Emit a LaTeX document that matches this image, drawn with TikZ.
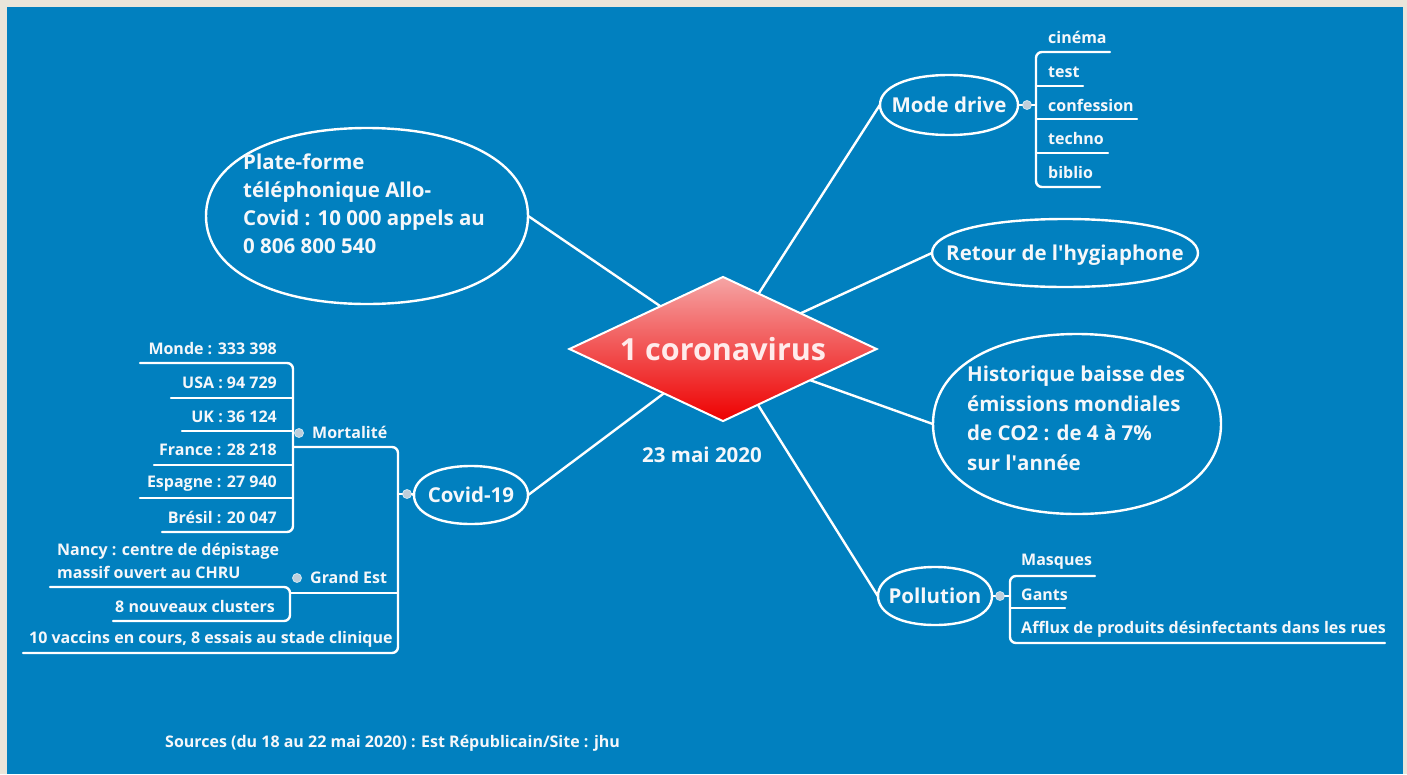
\documentclass[tikz,border=0pt]{standalone}
\usepackage{fontspec}
\setmainfont{Open Sans}
\usetikzlibrary{shapes.geometric,calc}
\definecolor{bg}{RGB}{1,128,191}
\definecolor{frame}{RGB}{234,229,218}
\definecolor{diatop}{RGB}{245,165,165}
\definecolor{diabot}{RGB}{238,0,0}
\definecolor{dotfill}{RGB}{190,205,218}
\definecolor{txt}{RGB}{245,247,250}
\tikzset{
  wire/.style={draw=white, line width=2.4pt, line cap=round, line join=round},
  tree/.style={wire, rounded corners=6pt},
  oval/.style={ellipse, inner sep=0pt},
  big/.style={text=txt, font=\bfseries\fontsize{20.5}{28}\selectfont, inner sep=0pt, text height=14pt, text depth=0pt},
  bigml/.style={text=txt, font=\bfseries\fontsize{20.5}{28}\selectfont, inner sep=0pt},
  small/.style={text=txt, font=\bfseries\fontsize{16}{23}\selectfont, inner sep=0pt, text height=11pt, text depth=0pt},
  smallml/.style={text=txt, font=\bfseries\fontsize{16}{23}\selectfont, inner sep=0pt},
  knob/.style={circle, fill=dotfill, draw=white!80!bg, line width=0.8pt, minimum size=9pt, inner sep=0pt},
}
% oval outline around a node centre: #1 name, #2 rx, #3 ry
\newcommand\fatoval[3]{%
  \draw[wire]
    ($(#1)+(#2,0)$) .. controls ($(#1)+(#2,0.6*#3)$) and ($(#1)+(0.6*#2,#3)$) .. ($(#1)+(0,#3)$)
    .. controls ($(#1)+(-0.6*#2,#3)$) and ($(#1)+(-#2,0.6*#3)$) .. ($(#1)+(-#2,0)$)
    .. controls ($(#1)+(-#2,-0.6*#3)$) and ($(#1)+(-0.6*#2,-#3)$) .. ($(#1)+(0,-#3)$)
    .. controls ($(#1)+(0.6*#2,-#3)$) and ($(#1)+(#2,-0.6*#3)$) .. ($(#1)+(#2,0)$) -- cycle;}
\begin{document}
\begin{tikzpicture}[x=1pt,y=-1pt]
\fill[frame] (0,0) rectangle (1407,774);
\fill[bg] (7,7) rectangle (1403,774);

% main branches
\node[oval, minimum width=322pt, minimum height=176pt] (pf) at (367,216) {};
\fatoval{pf}{161}{88}
\node[bigml, anchor=north west, align=left] (pft) at (243,154) {Plate-forme\\t\'el\'ephonique Allo-\\Covid : 10 000 appels au\\0 806 800 540};
\node[oval, minimum width=138pt, minimum height=60pt, label={[big, name=mdt]center:Mode drive}] (md) at (949,105) {};
\fatoval{md}{69}{30}
\node[oval, minimum width=266pt, minimum height=68pt, label={[big, name=hyt]center:Retour de l\textquotesingle hygiaphone}] (hy) at (1065,253) {};
\fatoval{hy}{133}{34}
\node[oval, minimum width=288pt, minimum height=180pt] (co2) at (1077,424) {};
\fatoval{co2}{144}{90}
\node[bigml, anchor=north west, align=left, font=\bfseries\fontsize{20.5}{29.5}\selectfont] (co2t) at (967,366) {Historique baisse des\\\'emissions mondiales\\de CO2 : de 4 \`a 7\%\\sur l\textquotesingle ann\'ee};
\node[oval, minimum width=114pt, minimum height=58pt, label={[big, name=polt]center:Pollution}] (pol) at (935,596) {};
\fatoval{pol}{57}{29}
\node[oval, minimum width=114pt, minimum height=58pt, label={[big, name=covt]center:Covid-19}] (cov) at (471,495) {};
\fatoval{cov}{57}{29}

\coordinate (hub) at (723,349);
\draw[wire] (hub) -- (pf.east);
\draw[wire] (hub) -- (md.west);
\draw[wire] (hub) -- (hy.west);
\draw[wire] (hub) -- (co2.west);
\draw[wire] (hub) -- (pol.west);
\draw[wire] (hub) -- (cov.east);

\node[diamond, aspect=2.124, draw=white, line width=2pt, top color=diatop, bottom color=diabot,
      minimum width=308pt, minimum height=145pt, inner sep=0pt, text=red!8!white,
      font=\bfseries\fontsize{30.5}{36}\selectfont] (core) at (hub) {1 coronavirus};
\node[big] (date) at (702,455) {23 mai 2020};

% Mode drive subtree
\coordinate (mdb) at (1036,105);
\coordinate (mdtop) at (1110,52);
\coordinate (mdl) at (1100,187);
\coordinate (tesU) at (1083,86);
\coordinate (conU) at (1137,119);
\coordinate (tecU) at (1108,153);
\node[knob] (mdk) at (1027,105) {};
\draw[wire] (md.east) -- (mdk.west);
\draw[wire] (mdk.east) -- (mdb);
\draw[tree] (mdtop) -- (1036,52) -- (1036,187) -- (mdl);
\draw[wire] (1036,86) -- (tesU);
\draw[wire] (1036,119) -- (conU);
\draw[wire] (1036,153) -- (tecU);
\node[small, anchor=west] (cin) at (1048,38) {cin\'ema};
\node[small, anchor=west] (tes) at (1048,72) {test};
\node[small, anchor=west] (con) at (1048,106) {confession};
\node[small, anchor=west] (tec) at (1048,139) {techno};
\node[small, anchor=west] (bib) at (1048,173) {biblio};

% Pollution subtree
\coordinate (polb) at (1010,596);
\coordinate (masU) at (1095,576);
\coordinate (affU) at (1385,643);
\coordinate (ganU) at (1065,608);
\node[knob] (polk) at (1000,596) {};
\draw[wire] (pol.east) -- (polk.west);
\draw[wire] (polk.east) -- (polb);
\draw[tree] (masU) -- (1010,576) -- (1010,643) -- (affU);
\draw[wire] (1010,608) -- (ganU);
\node[small, anchor=west] (mas) at (1021,560) {Masques};
\node[small, anchor=west] (gan) at (1021,595) {Gants};
\node[small, anchor=west] (aff) at (1021,628) {Afflux de produits d\'esinfectants dans les rues};

% Covid-19 subtree
\coordinate (covb) at (398,494);
\coordinate (mortU) at (293,447);
\coordinate (vacU) at (23,653);
\coordinate (geU) at (290,593);
\node[knob] (covk) at (407,494) {};
\draw[wire] (cov.west) -- (covk.east);
\draw[wire] (covk.west) -- (covb);
\draw[tree] (mortU) -- (398,447) -- (398,653) -- (vacU);
\draw[wire] (geU) -- (398,593);
\node[small, anchor=west] (mort) at (312,433) {Mortalit\'e};
\node[knob] (mortk) at (299,433) {};
\node[small, anchor=west] (ge) at (310,578) {Grand Est};
\node[knob] (gek) at (297,578) {};
\node[small, anchor=west] (vac) at (29,638) {10 vaccins en cours, 8 essais au stade clinique};

% Mortalite children
\coordinate (monU) at (140,363);
\coordinate (usaU) at (171,398);
\coordinate (ukU) at (182,431);
\coordinate (frU) at (154,465);
\coordinate (esU) at (140,498);
\coordinate (brU) at (162,532);
\draw[tree] (monU) -- (293,363) -- (293,532) -- (brU);
\draw[wire] (usaU) -- (293,398);
\draw[wire] (ukU) -- (293,431);
\draw[wire] (frU) -- (293,465);
\draw[wire] (esU) -- (293,498);
\node[small, anchor=east] (mon) at (277,349) {Monde : 333 398};
\node[small, anchor=east] (usa) at (277,383) {USA : 94 729};
\node[small, anchor=east] (uk) at (277,417) {UK : 36 124};
\node[small, anchor=east] (fr) at (277,450) {France : 28 218};
\node[small, anchor=east] (es) at (277,482) {Espagne : 27 940};
\node[small, anchor=east] (br) at (277,518) {Br\'esil : 20 047};

% Grand Est children
\coordinate (nanU) at (50,587);
\coordinate (cluU) at (113,621);
\draw[tree] (nanU) -- (290,587) -- (290,621) -- (cluU);
\node[smallml, anchor=north west, align=left] (nan) at (57,543) {Nancy : centre de d\'epistage\\massif ouvert au CHRU};
\node[small, anchor=east] (clu) at (275,607) {8 nouveaux clusters};

% sources
\node[text=txt, font=\bfseries\fontsize{16}{19}\selectfont, anchor=west, inner sep=0pt, text height=10.5pt, text depth=0pt] (src) at (165,742) {Sources (du 18 au 22 mai 2020) : Est R\'epublicain/Site : jhu};
\end{tikzpicture}
\end{document}
